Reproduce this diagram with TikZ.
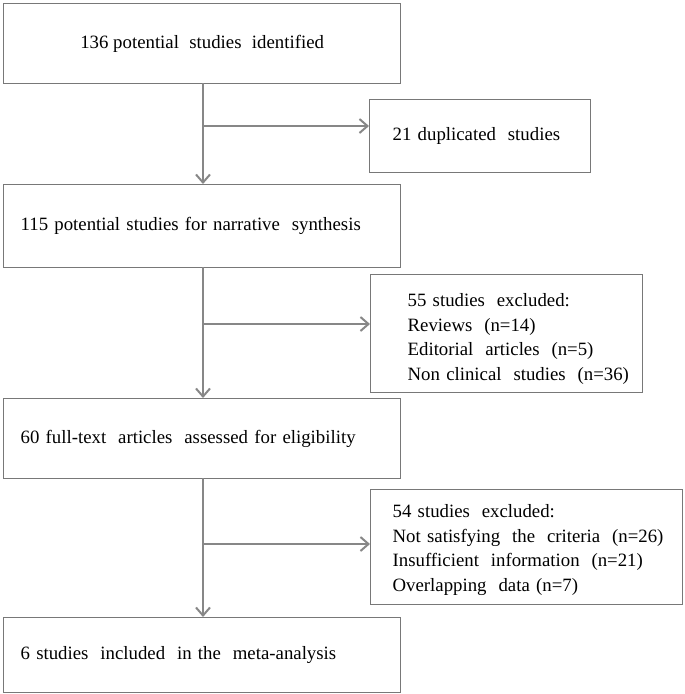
\documentclass[tikz,border=0pt]{standalone}
\usepackage{fontspec}
\setmainfont{Liberation Serif}
\usetikzlibrary{arrows.meta}
\definecolor{linegray}{RGB}{135,135,135}
\definecolor{boxgray}{RGB}{120,120,120}
\newcommand{\xsp}{\hspace{0.3em}}
\renewcommand{\arraystretch}{1.02}
\begin{document}
\begin{tikzpicture}[x=1pt,y=-1pt,
  every node/.style={font=\fontsize{18.8}{24}\selectfont},
  mainbox/.style={draw=boxgray,line width=1.3pt,anchor=north west,minimum width=397pt,inner sep=0pt},
  leftbox/.style={mainbox,align=left,text width=363pt},
  sidebox/.style={draw=boxgray,line width=1.3pt,anchor=north west,inner sep=0pt,align=left},
  arr/.style={draw=linegray,line width=2.2pt,-{Straight Barb[length=8pt,width=14pt,line width=2pt]}}
]
\useasboundingbox (0,0) rectangle (685,694);
% main boxes
\node[mainbox,minimum height=80pt,align=center] (b1) at (3,3) {136 potential\xsp{} studies\xsp{} identified};
\node[leftbox,minimum height=83pt] (b3) at (3,184) {115 potential studies for narrative\xsp{} synthesis};
\node[leftbox,minimum height=80pt] (b5) at (3,398) {60 full-text\xsp{} articles\xsp{} assessed for eligibility};
\node[leftbox,minimum height=75pt] (b7) at (3,617) {6 studies\xsp{} included\xsp{} in the\xsp{} meta-analysis};
% side boxes
\node[sidebox,minimum width=221pt,minimum height=73pt,text width=221pt] (b2) at (369,99) {\hspace*{23pt}21 duplicated\xsp{} studies};
\node[sidebox,minimum width=272pt,minimum height=118pt,text width=272pt] (b4) at (370,274) {\hspace*{37pt}\raisebox{-5pt}[\height][\depth]{\begin{tabular}{@{}l@{}}55 studies\xsp{} excluded:\\ Reviews\xsp{} (n=14)\\ Editorial\xsp{} articles\xsp{} (n=5)\\ Non clinical\xsp{} studies\xsp{} (n=36)\end{tabular}}};
\node[sidebox,minimum width=312pt,minimum height=115pt,text width=312pt] (b6) at (370,489) {\hspace*{22pt}\raisebox{-2.5pt}[\height][\depth]{\begin{tabular}{@{}l@{}}54 studies\xsp{} excluded:\\ Not satisfying\xsp{} the\xsp{} criteria\xsp{} (n=26)\\ Insufficient\xsp{} information\xsp{} (n=21)\\ Overlapping\xsp{} data (n=7)\end{tabular}}};
% junction coordinates
\coordinate (t1) at (203,83);
\coordinate (j1) at (203,126);
\coordinate (t3) at (203,267);
\coordinate (j3) at (203,324);
\coordinate (t5) at (203,478);
\coordinate (j5) at (203,544);
% connectors
\draw[arr] (t1) -- (t1 |- b3.north);
\draw[arr] (j1) -- (j1 -| b2.west);
\draw[arr] (t3) -- (t3 |- b5.north);
\draw[arr] (j3) -- (j3 -| b4.west);
\draw[arr] (t5) -- (t5 |- b7.north);
\draw[arr] (j5) -- (j5 -| b6.west);
\end{tikzpicture}
\end{document}
